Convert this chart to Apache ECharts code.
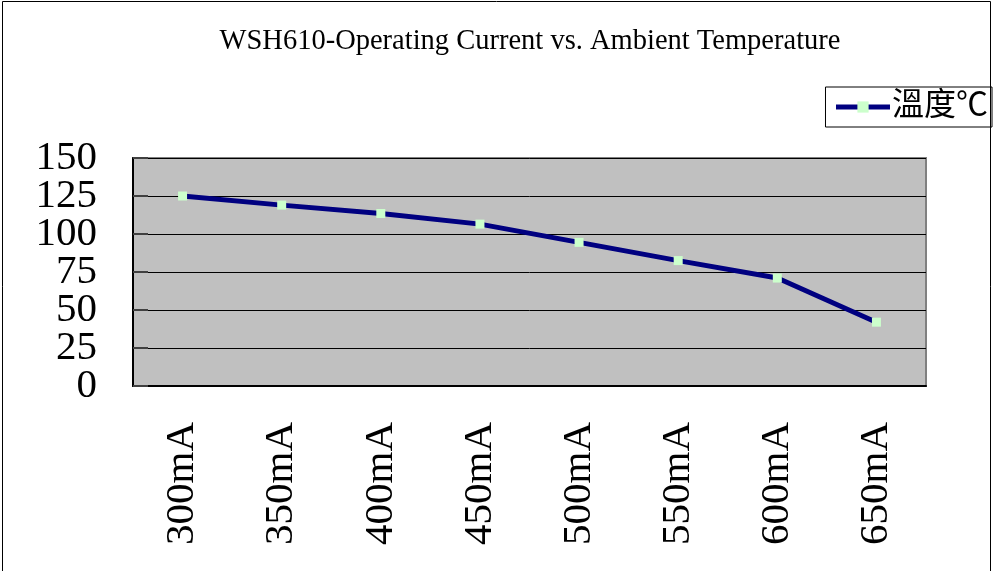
<!DOCTYPE html>
<html><head><meta charset="utf-8">
<script src="https://cdn.jsdelivr.net/npm/echarts@6/dist/echarts.min.js"></script>
<style>html,body{margin:0;padding:0;background:#fff}#c{width:994px;height:571px}</style>
</head><body><div id="c"></div>
<script>
var categories = ['300mA','350mA','400mA','450mA','500mA','550mA','600mA','650mA'];
var seriesName = '溫度℃';
var values = [125, 119, 113.5, 106.5, 94.5, 82.5, 71, 42];
var yMin = 0, yMax = 150, yStep = 25;
var titleText = 'WSH610-Operating Current vs. Ambient Temperature';

var serif = '"Liberation Serif","Times New Roman","Noto Sans CJK TC",serif';
var labelStyle = {fontFamily: serif, fontSize: 41, color: '#000'};
// main grid geometry
var gTop = 158, gBottom = 185, gLeft = 133, gRight = 68;
var pxPerUnit = (571 - gTop - gBottom) / (yMax - yMin);
var off = yStep * pxPerUnit;

var chart = echarts.init(document.getElementById('c'));
chart.setOption({
  animation: false,
  backgroundColor: '#fff',
  title: {text: titleText, left: 525, textAlign: 'center', top: 22,
    textStyle: {fontFamily: serif, fontSize: 28.5, fontWeight: 'normal', color: '#000'}},
  legend: {right: 2, top: 87, orient: 'vertical', padding: [4, 4, 4, 8],
    borderColor: '#000', borderWidth: 1, itemWidth: 54, itemHeight: 14, itemGap: 0,
    textStyle: {fontFamily: serif, fontSize: 32, color: '#000', padding: [0,0,0,-3]},
    lineStyle: {width: 5},
    data: [{name: seriesName}]},
  graphic: [{type: 'rect', shape: {x: 2.5, y: 1.5, width: 988, height: 580},
    style: {fill: 'none', stroke: '#000', lineWidth: 1}, z: 100}],
  grid: [
    {left: gLeft, right: gRight, top: gTop, bottom: gBottom, show: true,
      backgroundColor: '#c0c0c0', borderColor: '#808080', borderWidth: 2},
    {left: gLeft, right: gRight, top: gTop + off, bottom: gBottom + off, show: false}
  ],
  xAxis: [
    {type: 'category', data: categories, boundaryGap: true, gridIndex: 0,
      axisLine: {lineStyle: {color: '#000', width: 2}},
      axisTick: {inside: true, length: 15, lineStyle: {color: '#404040', width: 2}},
      axisLabel: Object.assign({rotate: 90, margin: 36}, labelStyle),
      splitLine: {show: false}},
    {type: 'category', data: categories, gridIndex: 1, show: false}
  ],
  yAxis: [
    {type: 'value', min: yMin, max: yMax, interval: yStep, gridIndex: 0,
      axisLine: {show: true, lineStyle: {color: '#000', width: 2}},
      axisTick: {show: true, inside: true, length: 15, lineStyle: {color: '#404040', width: 2}},
      axisLabel: {show: false},
      splitLine: {show: true, lineStyle: {color: '#000', width: 1}}},
    {type: 'value', min: yMin, max: yMax, interval: yStep * 2, gridIndex: 0, position: 'left', offset: 0,
      axisLine: {show: false}, axisTick: {show: false}, splitLine: {show: false},
      axisLabel: Object.assign({margin: 36, showMinLabel: true, showMaxLabel: true}, labelStyle)},
    {type: 'value', min: yMin + yStep, max: yMax - yStep, interval: yStep * 2, gridIndex: 1, position: 'left', offset: 0,
      axisLine: {show: false}, axisTick: {show: false}, splitLine: {show: false},
      axisLabel: Object.assign({margin: 36, showMinLabel: true, showMaxLabel: true}, labelStyle)}
  ],
  series: [{name: seriesName, type: 'line', data: values, xAxisIndex: 0, yAxisIndex: 0,
    lineStyle: {color: '#000080', width: 5},
    itemStyle: {color: '#ccffcc', borderWidth: 0},
    symbol: 'rect', symbolSize: 9, showAllSymbol: true}]
});
</script></body></html>
